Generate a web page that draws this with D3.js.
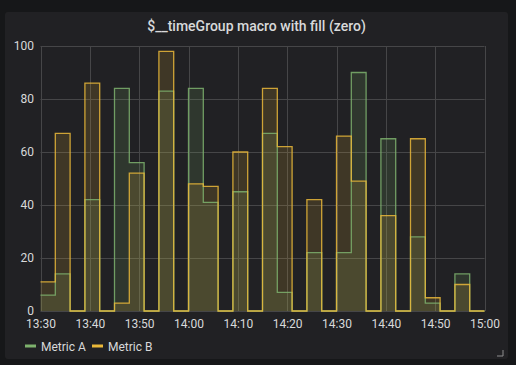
<!DOCTYPE html>
<html>
<head>
<meta charset="utf-8">
<script src="https://cdn.jsdelivr.net/npm/d3@7"></script>
<style>
body{margin:0;background:#161719;}
svg{display:block;font-family:Roboto,"Noto Sans",sans-serif;}
</style>
</head>
<body>
<svg width="516" height="365"></svg>
<script>
// 3 minute buckets from 13:30
var startTime = "13:30";
var bucketMinutes = 3;
var metricA = [6,14,0,42,0,84,56,0,83,0,84,41,0,45,0,67,7,0,22,0,22,90,0,65,0,28,3,0,14,0];
var metricB = [11,67,0,86,0,3,52,0,98,0,48,47,0,60,0,84,62,0,42,0,66,49,0,36,0,65,5,0,10,0];
var yTicks = [0,20,40,60,80,100];
var seriesNames = ["Metric A","Metric B"];
var seriesColors = ["#7eb26d","#eab839"];

var svg = d3.select("svg");
var parse = d3.timeParse("%H:%M");
var t0 = parse(startTime);
var t1 = d3.timeMinute.offset(t0, 90);

// panel
svg.append("rect").attr("x",5).attr("y",12).attr("width",503).attr("height",347)
	.attr("rx",3).style("fill","#212124");
svg.append("text").attr("x",256.5).attr("y",31).attr("text-anchor","middle")
	.style("fill","#d8d9da").style("font-size","14px").style("font-weight",500)
	.text("$__timeGroup macro with fill (zero)");

var x = d3.scaleTime().domain([t0,t1]).range([40.5,484.5]);
var y = d3.scaleLinear().domain([0,100]).range([311,46]);

// grid
var grid = svg.append("g");
grid.selectAll("line.h").data(yTicks).enter().append("line")
	.attr("x1",40.5).attr("x2",484.5)
	.attr("y1",function(d){return Math.round(y(d))+0.5})
	.attr("y2",function(d){return Math.round(y(d))+0.5})
	.style("stroke","#464648").style("stroke-width",1);
grid.selectAll("line.v").data(x.ticks(d3.timeMinute.every(10))).enter().append("line")
	.attr("x1",function(d){return Math.round(x(d))+0.5})
	.attr("x2",function(d){return Math.round(x(d))+0.5})
	.attr("y1",46).attr("y2",311)
	.style("stroke","#464648").style("stroke-width",1);

// axes
var yAxis = svg.append("g").attr("transform","translate(40,0)")
	.call(d3.axisLeft(y).tickValues(yTicks).tickSize(0).tickPadding(6));
var xAxis = svg.append("g").attr("transform","translate(0,311)")
	.call(d3.axisBottom(x).ticks(d3.timeMinute.every(10)).tickFormat(d3.timeFormat("%H:%M")).tickSize(0).tickPadding(8));
[yAxis,xAxis].forEach(function(a){
	a.select(".domain").remove();
	a.selectAll("text").style("fill","#d8d9da").style("font-size","12px").style("font-family","Roboto,sans-serif");
});

function points(vals){
	var p = vals.map(function(v,i){return {t:d3.timeMinute.offset(t0,i*bucketMinutes), v:v}});
	p.push({t:t1, v:vals[vals.length-1]});
	return p;
}

var area = d3.area().curve(d3.curveStepAfter)
	.x(function(d){return x(d.t)}).y0(y(0)).y1(function(d){return y(d.v)});
var line = d3.line().curve(d3.curveStepAfter)
	.x(function(d){return x(d.t)}).y(function(d){return y(d.v)});

[metricA,metricB].forEach(function(vals,k){
	var p = points(vals);
	svg.append("path").datum(p).attr("d",area)
		.style("fill",seriesColors[k]).style("fill-opacity",0.15);
});
[metricA,metricB].forEach(function(vals,k){
	var p = points(vals);
	svg.append("path").datum(p).attr("d",line)
		.style("fill","none").style("stroke",seriesColors[k]).style("stroke-width",1.3).style("stroke-opacity",0.85);
});

// legend
var legend = svg.append("g").attr("transform","translate(25,346)");
var lx = [0,67];
seriesNames.forEach(function(n,k){
	var g = legend.append("g").attr("transform","translate("+lx[k]+",0)");
	g.append("line").attr("x1",0).attr("x2",11).attr("y1",0).attr("y2",0)
		.style("stroke",seriesColors[k]).style("stroke-width",3);
	g.append("text").attr("x",16).attr("y",4.5).style("fill","#d8d9da").style("font-size","12px").text(n);
});

// resize handle
svg.append("path").attr("d","M497,356 L503,356 L503,350").style("fill","none").style("stroke","#8e8e8e").style("stroke-width",1);
</script>
</body>
</html>
